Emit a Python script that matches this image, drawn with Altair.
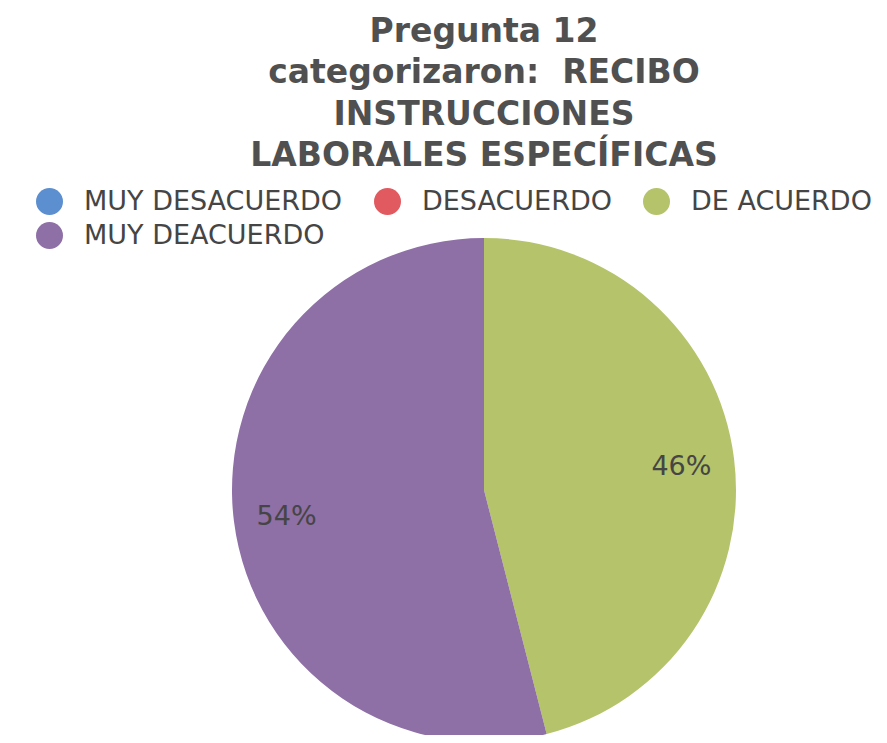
import altair as alt
import pandas as pd

# ---- data ----
categories = ["MUY DESACUERDO", "DESACUERDO", "DE ACUERDO", "MUY DEACUERDO"]
values = [0, 0, 46, 54]
labels = ["", "", "46%", "54%"]
colors = ["#5b8fcf", "#e05a60", "#b5c36a", "#8e6fa6"]
title_lines = ["Pregunta 12", "categorizaron:\u00a0 RECIBO", "INSTRUCCIONES", "LABORALES ESPECÍFICAS"]

df = pd.DataFrame({
    "categoria": categories,
    "valor": values,
    "etiqueta": labels,
    "orden": list(range(len(categories))),
})

base = alt.Chart(df).encode(
    theta=alt.Theta("valor:Q", stack=True),
    order=alt.Order("orden:Q", sort="ascending"),
)

pie = base.mark_arc(radius=252, stroke="#ffffff", strokeWidth=0).encode(
    color=alt.Color(
        "categoria:N",
        scale=alt.Scale(domain=categories, range=colors),
        sort=categories,
        legend=alt.Legend(
            title=None,
            orient="none",
            legendX=-196,
            legendY=-57,
            direction="horizontal",
            columns=3,
            symbolType="circle",
            symbolSize=729,
            symbolStrokeWidth=0,
            labelFont="DejaVu Sans",
            labelFontSize=27,
            labelColor="#454545",
            labelOffset=21,
            labelLimit=0,
            columnPadding=31,
            rowPadding=6,
        ),
    )
)

text = base.mark_text(
    radius=199, font="DejaVu Sans", fontSize=27, color="#454545", dy=2
).encode(text="etiqueta:N")

chart = (
    alt.layer(pie, text)
    .properties(
        width=504,
        height=490,
        autosize=alt.AutoSizeParams(type="none"),
        padding={"left": 224, "top": 237, "right": 143, "bottom": 0},
        title=alt.TitleParams(
            text=title_lines,
            font="DejaVu Sans",
            fontSize=33,
            fontWeight="bold",
            color="#505050",
            lineHeight=41.5,
            anchor="middle",
            offset=15,
        ),
    )
    .configure_view(strokeWidth=0)
)

chart.save("out.html", embed_options={"renderer": "svg", "actions": False})
